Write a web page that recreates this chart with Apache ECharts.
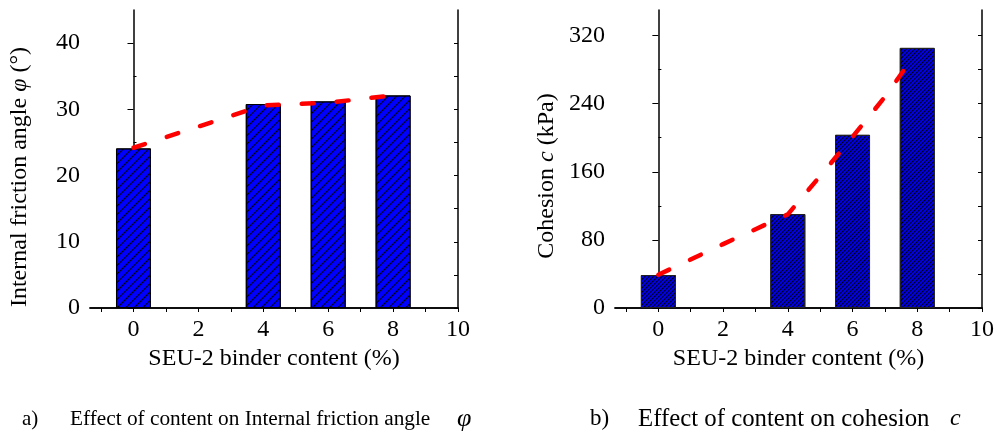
<!DOCTYPE html>
<html>
<head>
<meta charset="utf-8">
<script src="https://cdn.jsdelivr.net/npm/echarts@6/dist/echarts.min.js"></script>
<style>html,body{margin:0;padding:0;background:#fff}#c{width:997px;height:433px}</style>
</head>
<body>
<div id="c"></div>
<script>
// ---- data ----
const binderContent = [0, 4, 6, 8];
const frictionAngle = [24.1, 30.8, 31.2, 32.1];
const cohesion = [38.7, 110.3, 203.4, 305.5];
const phiTrendX = [0, 2, 4, 6, 7.7];
const phiTrendY = [24.2, 27.4, 30.6, 31.0, 31.95];
const cohTrendX = [0, 2, 4, 5, 6, 7, 7.75];
const cohTrendY = [39, 75, 110, 155, 201, 248, 288];
const xLabelTicks = [0, 2, 4, 6, 8, 10];
const xAllTicks = [-1, 0, 1, 2, 3, 4, 5, 6, 7, 8, 9, 10];
const phiLabelTicks = [0, 10, 20, 30, 40];
const phiMinorTicks = [5, 15, 25, 35];
const cohLabelTicks = [0, 80, 160, 240, 320];
const cohMinorTicks = [40, 120, 200, 280];
const xTitle = 'SEU-2 binder content (%)';

const FONT = '"Liberation Serif", "Times New Roman", serif';
const chart = echarts.init(document.getElementById('c'), null, {renderer: 'canvas'});

const axisLine = {show: true, lineStyle: {color: '#000', width: 1.5}};
function xAxesFor(gi) {
  return [
    {type: 'value', gridIndex: gi, position: 'bottom', min: -1.34, max: 10,
     axisLine: axisLine, splitLine: {show: false},
     axisTick: {show: true, inside: false, length: 4, customValues: xAllTicks, lineStyle: {color: '#000', width: 1}},
     axisLabel: {show: true, customValues: xLabelTicks, margin: 10, fontFamily: FONT, fontSize: 24, color: '#000'},
     name: xTitle, nameLocation: 'middle', nameGap: 37,
     nameTextStyle: {fontFamily: FONT, fontSize: 24, color: '#000'}},
    {type: 'value', gridIndex: gi, position: 'top', min: -1.34, max: 10,
     axisLine: axisLine, splitLine: {show: false}, axisTick: {show: false}, axisLabel: {show: false}}
  ];
}
function yAxesFor(gi, max, labels, minors) {
  const all = labels.concat(minors);
  return [
    {type: 'value', gridIndex: gi, position: 'left', min: 0, max: max,
     axisLine: axisLine, splitLine: {show: false},
     axisTick: {show: true, inside: false, length: 6, customValues: labels, lineStyle: {color: '#000', width: 1}},
     axisLabel: {show: true, customValues: labels, margin: 10, fontFamily: FONT, fontSize: 24, color: '#000'}},
    {type: 'value', gridIndex: gi, position: 'left', min: 0, max: max,
     axisLine: {show: false}, splitLine: {show: false},
     axisTick: {show: true, inside: true, length: 3, customValues: minors, lineStyle: {color: '#000', width: 1}},
     axisLabel: {show: false}},
    {type: 'value', gridIndex: gi, position: 'right', min: 0, max: max,
     axisLine: axisLine, splitLine: {show: false},
     axisTick: {show: true, inside: true, length: 4, customValues: all, lineStyle: {color: '#000', width: 1}},
     axisLabel: {show: false}}
  ];
}

function pairs(xs, ys) { return xs.map((x, i) => [x, ys[i]]); }

const dashed = {color: '#ff0000', width: 4.5, type: [12, 23], cap: 'round'};

const rich = function (size) {
  return {
    n: {fontFamily: FONT, fontSize: size, fill: '#000', color: '#000'},
    i: {fontFamily: FONT, fontSize: size, fontStyle: 'italic', fill: '#000', color: '#000'}
  };
};

chart.setOption({
  animation: false,
  backgroundColor: '#fff',
  grid: [
    {left: 90, top: 10, width: 368, height: 298},
    {left: 615, top: 10, width: 367, height: 298}
  ],
  xAxis: xAxesFor(0).concat(xAxesFor(1)),
  yAxis: yAxesFor(0, 45, phiLabelTicks, phiMinorTicks).concat(yAxesFor(1, 350, cohLabelTicks, cohMinorTicks)),
  series: [
    {type: 'bar', xAxisIndex: 0, yAxisIndex: 0, barWidth: 35,
     data: pairs(binderContent, frictionAngle),
     itemStyle: {color: '#0000ff', borderColor: '#000', borderWidth: 1,
       decal: {symbol: 'rect', symbolSize: 1, dashArrayX: [1, 0], dashArrayY: [1, 4.3], rotation: -Math.PI / 4, color: '#000'}}},
    {type: 'line', xAxisIndex: 0, yAxisIndex: 0, data: pairs(phiTrendX, phiTrendY),
     showSymbol: false, symbol: 'none', lineStyle: dashed, z: 5},
    {type: 'bar', xAxisIndex: 2, yAxisIndex: 3, barWidth: 35,
     data: pairs(binderContent, cohesion),
     itemStyle: {color: '#0000ee', borderColor: '#222', borderWidth: 1,
       decal: {symbol: 'rect', symbolSize: 1, dashArrayX: [1, 0], dashArrayY: [1, 1.3], rotation: -Math.PI / 4, color: '#000'}}},
    {type: 'line', xAxisIndex: 2, yAxisIndex: 3, data: pairs(cohTrendX, cohTrendY),
     showSymbol: false, symbol: 'none', lineStyle: dashed, z: 5}
  ],
  graphic: [
    {type: 'text', x: 20, y: 177, rotation: Math.PI / 2,
     style: {text: '{n|Internal friction angle }{i|φ}{n| (°)}', rich: rich(24), align: 'center', verticalAlign: 'middle'}},
    {type: 'text', x: 547, y: 176, rotation: Math.PI / 2,
     style: {text: '{n|Cohesion }{i|c}{n| (kPa)}', rich: rich(24), align: 'center', verticalAlign: 'middle'}},
    {type: 'text', x: 22, y: 419, style: {text: 'a)', font: '21px ' + FONT, fill: '#000', verticalAlign: 'middle'}},
    {type: 'text', x: 70, y: 419, style: {text: 'Effect of content on Internal friction angle', font: '21.3px ' + FONT, fill: '#000', verticalAlign: 'middle'}},
    {type: 'text', x: 457, y: 419, style: {text: 'φ', font: 'italic 26px ' + FONT, fill: '#000', verticalAlign: 'middle'}},
    {type: 'text', x: 590, y: 419, style: {text: 'b)', font: '23px ' + FONT, fill: '#000', verticalAlign: 'middle'}},
    {type: 'text', x: 638, y: 419, style: {text: 'Effect of content on cohesion', font: '24.8px ' + FONT, fill: '#000', verticalAlign: 'middle'}},
    {type: 'text', x: 950, y: 419, style: {text: 'c', font: 'italic 24px ' + FONT, fill: '#000', verticalAlign: 'middle'}}
  ]
});
</script>
</body>
</html>
